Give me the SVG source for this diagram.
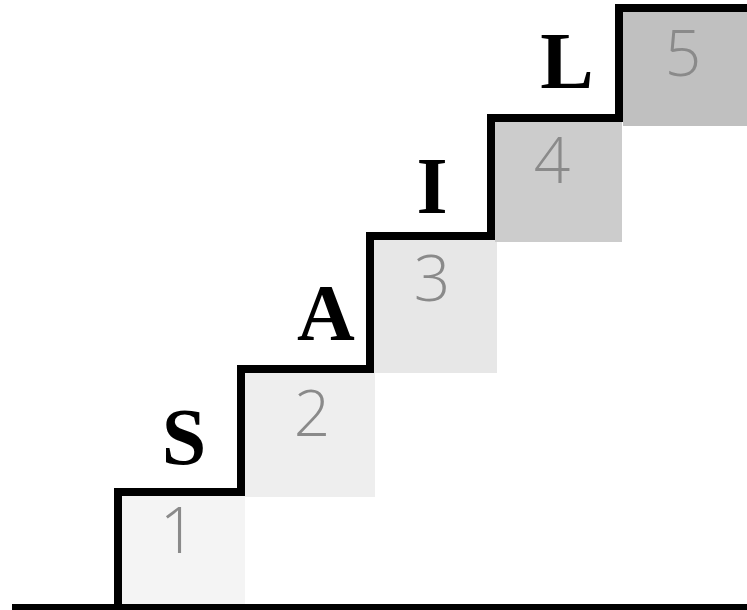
<svg xmlns="http://www.w3.org/2000/svg" width="747" height="610" viewBox="0 0 747 610">
<style>
.num{font-family:"Open Sans","Liberation Sans",sans-serif;font-weight:300;font-size:64px;fill:#8a8a8a;text-anchor:middle}
.let{font-family:"Liberation Serif","Times New Roman",serif;font-weight:bold;font-size:80px;fill:#000;text-anchor:middle}
.line{fill:none;stroke:#000;stroke-linejoin:miter}
</style>
<rect width="747" height="610" fill="#fff"/>
<g id="step1">
<rect x="122" y="496" width="123" height="110" fill="#f4f4f4"/>
<text class="num" x="178" y="553">1</text>
<text class="let" x="184" y="464">S</text>
</g>
<g id="step2">
<rect x="245" y="373" width="130" height="124" fill="#eeeeee"/>
<text class="num" x="312" y="436">2</text>
<text class="let" x="326" y="340">A</text>
</g>
<g id="step3">
<rect x="374" y="240" width="123" height="133" fill="#e7e7e7"/>
<text class="num" x="432" y="301">3</text>
<text class="let" x="432" y="213">I</text>
</g>
<g id="step4">
<rect x="495" y="122" width="127" height="120" fill="#cccccc"/>
<text class="num" x="552" y="183" fill="#808080">4</text>
<text class="let" x="567" y="88">L</text>
</g>
<g id="step5">
<rect x="623" y="12" width="124" height="114" fill="#c0c0c0"/>
<text class="num" x="683" y="76">5</text>
</g>
<g id="connectors">
<path class="line" stroke-width="8" d="M118 605 V492 H241 V369 H370 V236 H491 V118 H619 V8 H747"/>
<path class="line" stroke-width="6" d="M12 607 H747"/>
</g>
</svg>
